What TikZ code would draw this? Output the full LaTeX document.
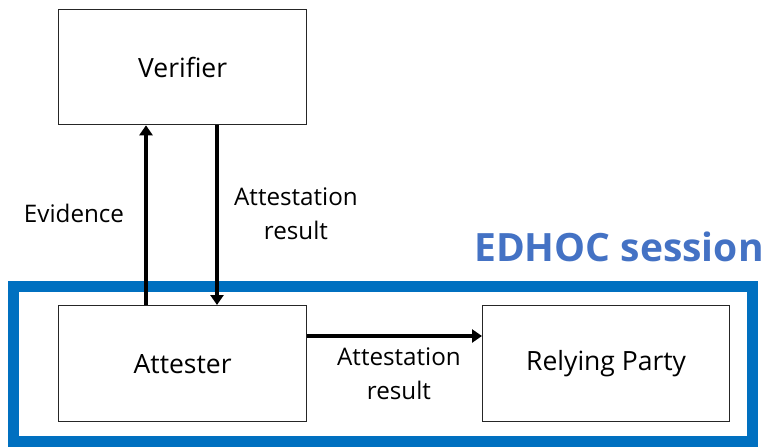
\documentclass[tikz,border=0pt]{standalone}
\usepackage{fontspec}
\setmainfont{Open Sans}
\usetikzlibrary{arrows.meta}
\definecolor{framblue}{RGB}{0,112,192}
\definecolor{titleblue}{RGB}{68,114,196}
\begin{document}
\begin{tikzpicture}[x=1pt,y=-1pt,
  box/.style={draw=black!85, line width=1.3pt, fill=white, inner sep=0pt,
    minimum width=248pt, minimum height=115pt, font=\fontsize{26.5}{30}\selectfont},
  flow/.style={line width=3.3pt, -{Triangle[length=10pt,width=13pt]}},
  lbl/.style={font=\fontsize{24.2}{34}\selectfont, align=center, inner sep=0pt}]
\useasboundingbox (0,0) rectangle (769,447);

% session frame
\draw[line width=11pt, draw=framblue] (13,286.5) rectangle (752,441.5);
\node[font=\fontsize{39}{42}\selectfont\bfseries, text=titleblue, anchor=base]
  (title) at (619,261) {EDHOC session};

% parties
\node[box, anchor=north west] (ver) at (58,9) {Verifier};
\node[box, anchor=north west, minimum height=116pt] (att) at (58,305) {Attester};
\node[box, anchor=north west, minimum width=247pt, minimum height=116pt] (rp) at (482,305) {Relying Party};

% message flows
\coordinate (evA) at ([xshift=88pt]att.north west);
\coordinate (evV) at ([xshift=88pt]ver.south west);
\coordinate (arV) at ([xshift=159pt]ver.south west);
\coordinate (arA) at ([xshift=159pt]att.north west);
\coordinate (hA) at ([yshift=-31pt]att.north east);
\draw[flow] (evA) -- (evV);
\draw[flow] (arV) -- (arA);
\draw[flow] (hA) -- (hA -| rp.west);

% labels
\node[lbl] (evl) at (74,213) {Evidence};
\node[lbl] (arl) at (296,214) {Attestation\\result};
\node[lbl] (hl) at (399,374) {Attestation\\result};
\end{tikzpicture}
\end{document}
